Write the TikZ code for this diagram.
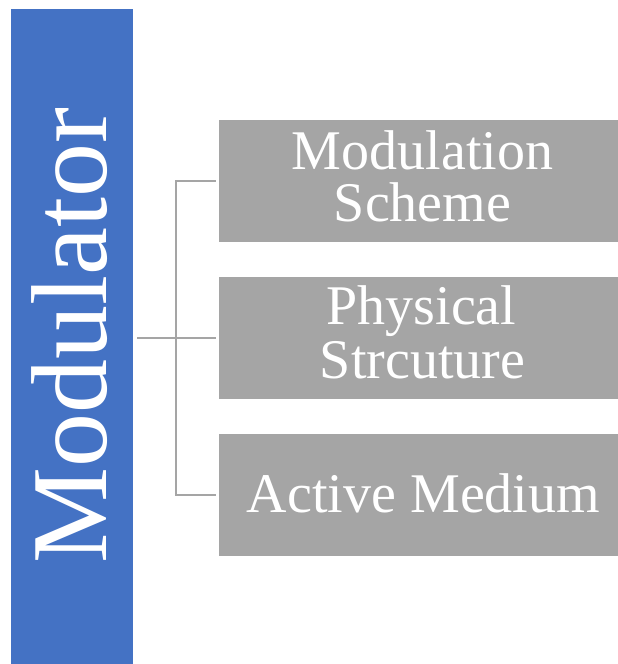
\documentclass[tikz,border=0pt]{standalone}
\usepackage{fontspec}
\setmainfont{Liberation Serif}
\begin{document}
\begin{tikzpicture}[x=1pt,y=-1pt,
  barbox/.style={fill=barblue, draw=none, inner sep=0pt, minimum width=122pt, minimum height=655pt},
  itembox/.style={fill=itemgray, draw=none, inner sep=0pt, minimum width=399pt, minimum height=122pt},
  itemtext/.style={text=white, inner sep=0pt, anchor=base, font=\fontsize{56}{56}\selectfont},
  conn/.style={draw=itemgray, line width=2pt}]
\definecolor{barblue}{HTML}{4472C4}
\definecolor{itemgray}{HTML}{A5A5A5}
\useasboundingbox (0,0) rectangle (618,664);
% left title bar
\node[barbox] (bar) at (72,336.5) {};
\node[rotate=90, anchor=base, text=white, inner sep=0pt,
      font=\fontsize{108}{108}\selectfont] (bartext) at (106,336) {Modulator};
% item boxes
\node[itembox] (b1) at (418.5,181) {};
\node[itembox] (b2) at (418.5,338) {};
\node[itembox] (b3) at (418.5,495) {};
\node[itemtext] (t1a) at (422.5,169) {Modulation};
\node[itemtext] (t1b) at (422.5,221.7) {Scheme};
\node[itemtext] (t2a) at (421.5,324.7) {Physical};
\node[itemtext] (t2b) at (422.5,378.7) {Strcuture};
\node[itemtext] (t3) at (423.5,512.3) {Active Medium};
% bracket connector
\coordinate (j) at (176,338);
\draw[conn, shorten <=4pt, shorten >=3pt] (bar.east |- j) -- (b2.west);
\draw[conn, shorten <=3pt, shorten >=3pt] (b1.west) -- (j |- b1.west) -- (j |- b3.west) -- (b3.west);
\end{tikzpicture}
\end{document}
